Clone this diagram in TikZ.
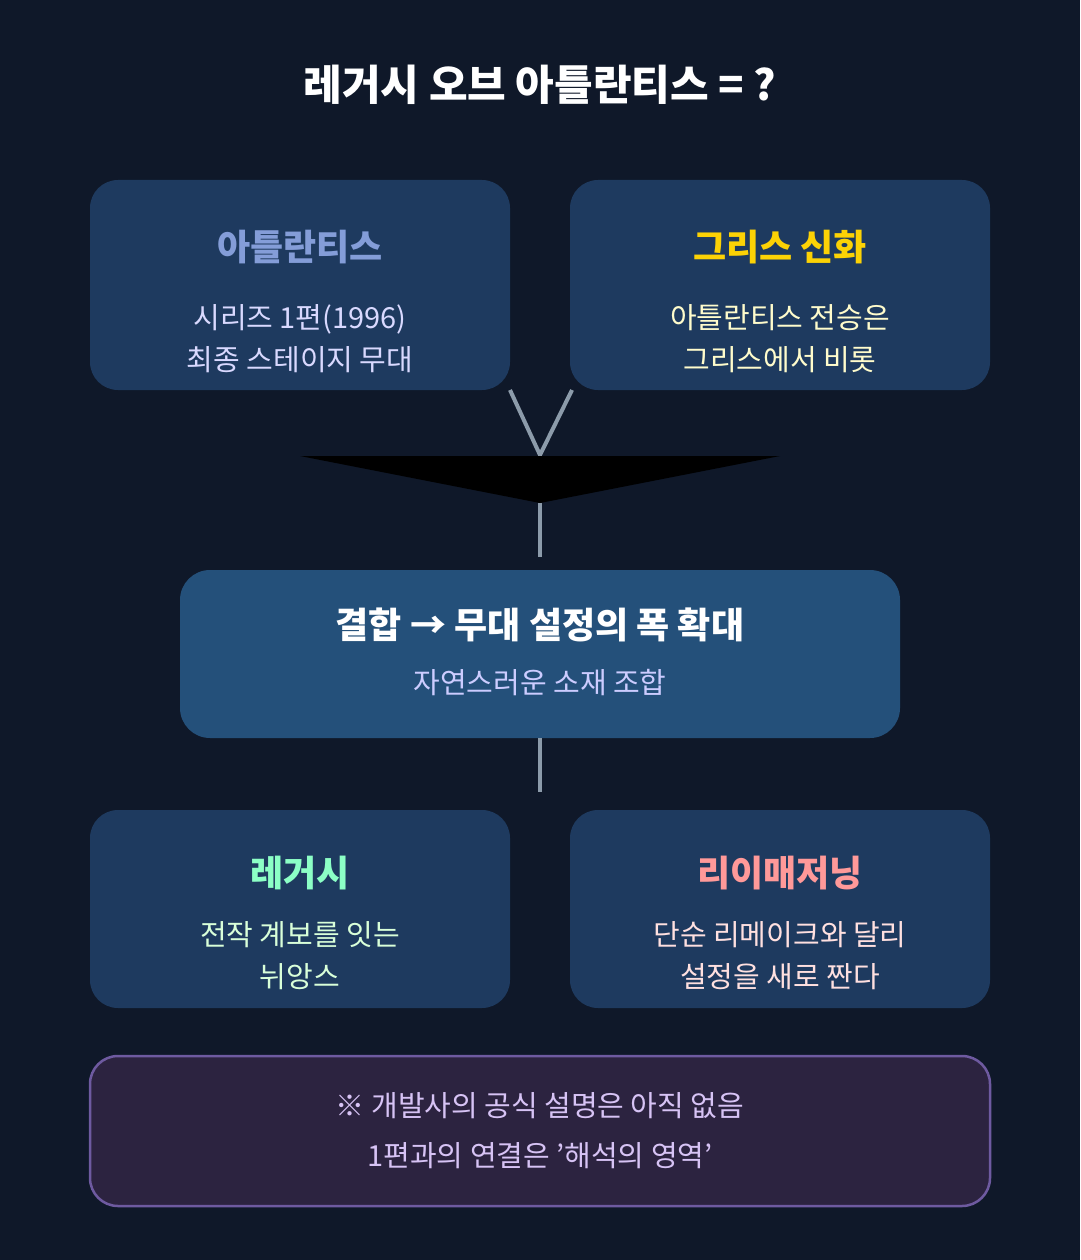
\documentclass[tikz,border=0pt]{standalone}
\usepackage{fontspec}
\setmainfont{Noto Sans CJK KR}
\begin{document}
\begin{tikzpicture}[x=1pt,y=-1pt,
 box/.style={draw=none,fill=#1,rounded corners=28pt},
 ttl/.style={font=\fontsize{36}{40}\selectfont\bfseries},
 bdy/.style={font=\fontsize{29}{42}\selectfont,align=center},
 ln/.style={draw=gray!70!blue!60,line width=4pt}]
\definecolor{bg}{HTML}{0F1829}
\definecolor{bx}{HTML}{1E3A5F}
\definecolor{bxc}{HTML}{24507A}
\useasboundingbox (0,0) rectangle (1080,1260);
\fill[bg] (0,0) rectangle (1080,1260);
\node[font=\fontsize{42}{46}\selectfont\bfseries,text=white] (t) at (540,85) {레거시 오브 아틀란티스 = ?};
\fill[bx,rounded corners=28pt] (90,180) rectangle (510,390); \coordinate (a) at (510,390);
\fill[bx,rounded corners=28pt] (570,180) rectangle (990,390);
\node[ttl,text=cyan!40!blue!50!white] (at) at (300,247) {아틀란티스};
\node[bdy,text=white!85!blue] (ab) at (300,339) {시리즈 1편(1996)\\최종 스테이지 무대};
\node[ttl,text=yellow!70!orange] (gt) at (780,247) {그리스 신화};
\node[bdy,text=yellow!20!white] (gb) at (780,339) {아틀란티스 전승은\\그리스에서 비롯};
\coordinate (l1) at (510,390); \coordinate (r1) at (572,390); \coordinate (m) at (540,455);
\draw[ln,draw={rgb,255:red,140;green,155;blue,170}] (l1) -- (m) -- (r1);
\coordinate (tl) at (300,456); \coordinate (tr) at (780,456); \coordinate (tb) at (540,503);
\fill[black] (tl) -- (tr) -- (tb) -- cycle;
\coordinate (c1) at (540,503); \coordinate (c2) at (540,557);
\draw[line width=4pt,draw={rgb,255:red,140;green,155;blue,170}] (c1) -- (c2);
\fill[bxc,rounded corners=30pt] (180,570) rectangle (900,738);
\node[font=\fontsize{36}{40}\selectfont\bfseries,text=white] (ct) at (540,625) {결합 → 무대 설정의 폭 확대};
\node[bdy,text=white!80!blue] (cb) at (540,683) {자연스러운 소재 조합};
\coordinate (d1) at (540,738); \coordinate (d2) at (540,792);
\draw[line width=4pt,draw={rgb,255:red,140;green,155;blue,170}] (d1) -- (d2);
\fill[bx,rounded corners=28pt] (90,810) rectangle (510,1008);
\fill[bx,rounded corners=28pt] (570,810) rectangle (990,1008);
\node[ttl,text=green!50!cyan!45!white] (lt) at (300,873) {레거시};
\node[bdy,text=green!15!white] (lb) at (300,956) {전작 계보를 잇는\\뉘앙스};
\node[ttl,text=red!40!white] (rt) at (780,873) {리이매저닝};
\node[bdy,text=red!12!white] (rb) at (780,956) {단순 리메이크와 달리\\설정을 새로 짠다};
\definecolor{nb}{HTML}{2C2340}\definecolor{nd}{HTML}{6E5AA0}
\draw[fill=nb,draw=nd,line width=2.5pt,rounded corners=28pt] (90,1056) rectangle (990,1206);
\node[font=\fontsize{29}{50}\selectfont,align=center,text={rgb,255:red,215;green,195;blue,245}] (n) at (540,1131) {※ 개발사의 공식 설명은 아직 없음\\1편과의 연결은 '해석의 영역'};
\end{tikzpicture}
\end{document}
